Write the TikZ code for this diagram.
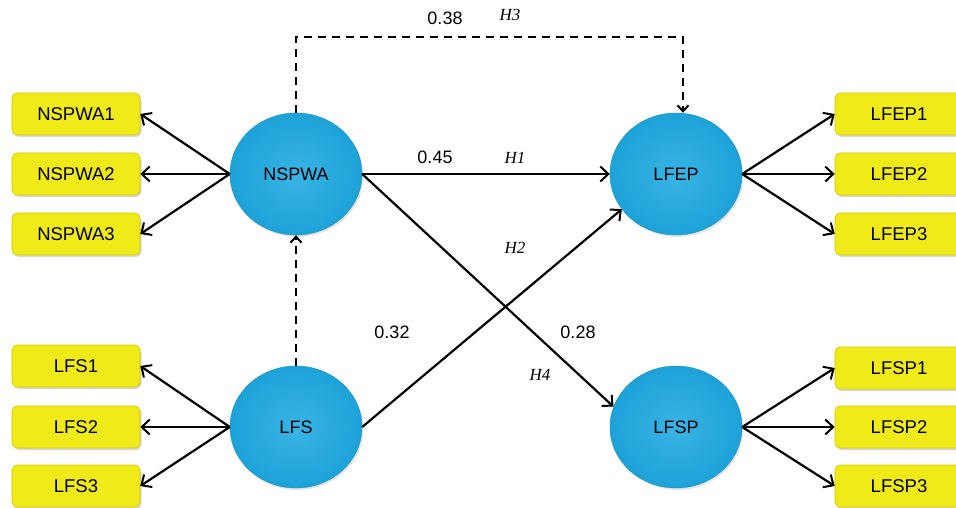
\documentclass[tikz,border=0pt]{standalone}
\usepackage{fontspec}
\setmainfont{Liberation Sans}
\newfontfamily\hfont{Liberation Serif}
\usetikzlibrary{arrows.meta,shapes.geometric,shadows}
\definecolor{ballblue}{HTML}{1EA9E1}
\definecolor{boxyellow}{HTML}{F0EB18}
\definecolor{boxedge}{HTML}{D2C800}
\begin{document}
\begin{tikzpicture}[x=1pt,y=-1pt,
  latent/.style={ellipse, minimum width=132pt, minimum height=122pt, inner sep=0pt,
    inner color=ballblue!88!white, outer color=ballblue!96!black, draw=ballblue!85!black, line width=0.4pt,
    drop shadow={shadow xshift=1.5pt, shadow yshift=-2pt, opacity=0.2},
    font=\fontsize{18}{21}\selectfont},
  indic/.style={rectangle, rounded corners=5pt, minimum width=128pt, minimum height=42pt, inner sep=0pt,
    fill=boxyellow, draw=boxedge, line width=0.6pt,
    drop shadow={shadow xshift=1.5pt, shadow yshift=-2pt, opacity=0.3},
    font=\fontsize{18.5}{21}\selectfont},
  arr/.style={line width=2.2pt, -{Straight Barb[length=8pt,width=15pt,line width=2pt]}},
  darr/.style={line width=2.4pt, dash pattern=on 8pt off 6pt, -{Straight Barb[length=6pt,width=11pt,line width=2pt]}},
  num/.style={font=\fontsize{18}{21}\selectfont},
  hyp/.style={font=\hfont\itshape\fontsize{17}{20}\selectfont}]
\useasboundingbox (0,0) rectangle (956,508);
\fill[white] (0,0) rectangle (956,508);
% latent variables
\node[latent] (nspwa) at (296,174) {NSPWA};
\node[latent] (lfep) at (676,174) {LFEP};
\node[latent] (lfs) at (296,427) {LFS};
\node[latent] (lfsp) at (676,427) {LFSP};
% indicators left
\node[indic] (nspwa1) at (76,114) {NSPWA1};
\node[indic] (nspwa2) at (76,174) {NSPWA2};
\node[indic] (nspwa3) at (76,234) {NSPWA3};
\node[indic] (lfs1) at (76,366) {LFS1};
\node[indic] (lfs2) at (76,427) {LFS2};
\node[indic] (lfs3) at (76,486) {LFS3};
% indicators right
\node[indic] (lfep1) at (899,114) {LFEP1};
\node[indic] (lfep2) at (899,174) {LFEP2};
\node[indic] (lfep3) at (899,234) {LFEP3};
\node[indic] (lfsp1) at (899,368) {LFSP1};
\node[indic] (lfsp2) at (899,427) {LFSP2};
\node[indic] (lfsp3) at (899,486) {LFSP3};
% measurement arrows
\foreach \t in {nspwa1,nspwa2,nspwa3} \draw[arr] (nspwa.west) -- (\t.east);
\foreach \t in {lfs1,lfs2,lfs3} \draw[arr] (lfs.west) -- (\t.east);
\foreach \t in {lfep1,lfep2,lfep3} \draw[arr] (lfep.east) -- (\t.west);
\foreach \t in {lfsp1,lfsp2,lfsp3} \draw[arr] (lfsp.east) -- (\t.west);
% structural paths
\coordinate (c1) at (296,37);
\coordinate (c2) at (683,37);
\draw[darr] (nspwa.north) -- (c1) -- (c2) -- (lfep.north -| c2);
\draw[arr] (nspwa.east) -- (lfep.west);
\draw[arr] (lfs.east) -- (lfep.213);
\draw[arr] (nspwa.east) -- (lfsp.162);
\draw[darr] (lfs.north) -- (nspwa.south);
% labels
\node[num] (l038) at (445,18) {0.38};
\node[hyp] (h3) at (510,15) {H3};
\node[num] (l045) at (435,157) {0.45};
\node[hyp] (h1) at (515,158) {H1};
\node[hyp] (h2) at (515,248) {H2};
\node[num] (l032) at (392,332) {0.32};
\node[num] (l028) at (578,332) {0.28};
\node[hyp] (h4) at (540,375) {H4};
\end{tikzpicture}
\end{document}
